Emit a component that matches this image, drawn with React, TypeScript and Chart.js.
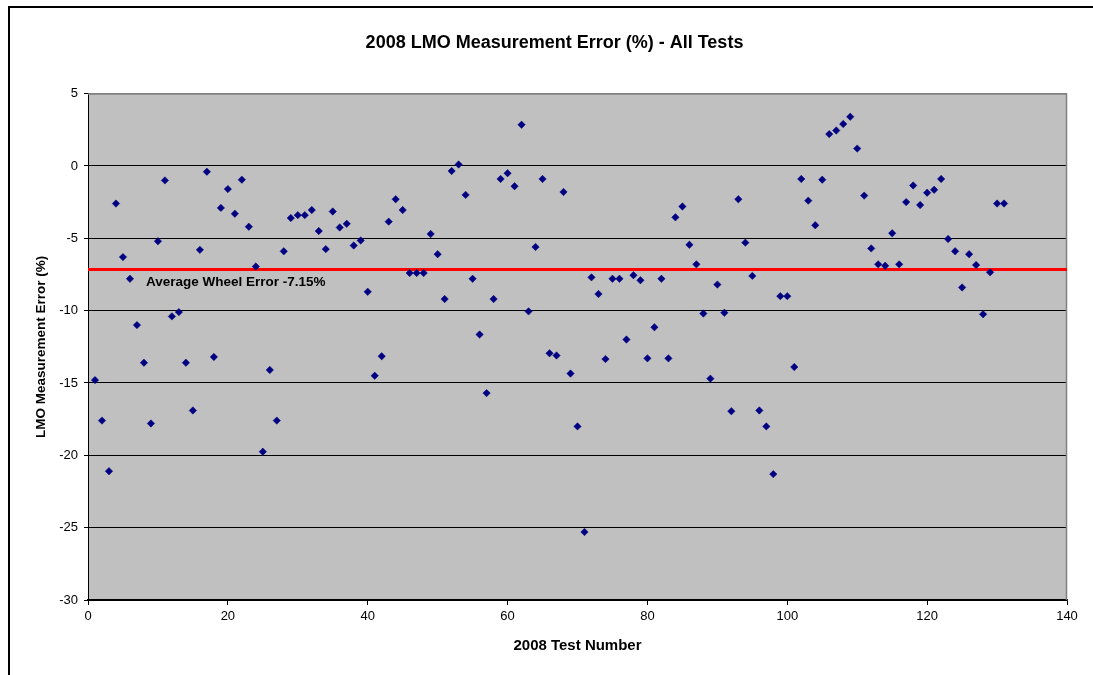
import React, { useEffect, useRef } from "react";
import { Chart, registerables } from "chart.js";

Chart.register(...registerables);

const testNumbers = [
  1, 2, 3, 4, 5, 6, 7, 8, 9, 10, 11, 12, 13, 14, 15, 16, 17, 18, 19, 20,
  21, 22, 23, 24, 25, 26, 27, 28, 29, 30, 31, 32, 33, 34, 35, 36, 37, 38, 39, 40,
  41, 42, 43, 44, 45, 46, 47, 48, 49, 50, 51, 52, 53, 54, 55, 56, 57, 58, 59, 60,
  61, 62, 63, 64, 65, 66, 67, 68, 69, 70, 71, 72, 73, 74, 75, 76, 77, 78, 79, 80,
  81, 82, 83, 84, 85, 86, 87, 88, 89, 90, 91, 92, 93, 94, 95, 96, 97, 98, 99, 100,
  101, 102, 103, 104, 105, 106, 107, 108, 109, 110, 111, 112, 113, 114, 115, 116, 117, 118, 119, 120,
  121, 122, 123, 124, 125, 126, 127, 128, 129, 130, 131,
];

const measurementErrors = [
  -14.8, -17.6, -21.1, -2.6, -6.3, -7.8, -11.0, -13.6, -17.8, -5.2,
  -1.0, -10.4, -10.1, -13.6, -16.9, -5.8, -0.4, -13.2, -2.9, -1.6,
  -3.3, -0.95, -4.2, -6.95, -19.75, -14.1, -17.6, -5.9, -3.6, -3.4,
  -3.4, -3.05, -4.5, -5.75, -3.15, -4.25, -4.0, -5.5, -5.15, -8.7,
  -14.5, -13.15, -3.85, -2.3, -3.05, -7.4, -7.4, -7.4, -4.7, -6.1,
  -9.2, -0.35, 0.1, -2.0, -7.8, -11.65, -15.7, -9.2, -0.9, -0.5,
  -1.4, 2.85, -10.05, -5.6, -0.9, -12.95, -13.1, -1.8, -14.35, -18.0,
  -25.3, -7.7, -8.85, -13.35, -7.8, -7.8, -12.0, -7.55, -7.9, -13.3,
  -11.15, -7.8, -13.3, -3.55, -2.8, -5.45, -6.8, -10.2, -14.7, -8.2,
  -10.15, -16.95, -2.3, -5.3, -7.6, -16.9, -18.0, -21.3, -9.0, -9.0,
  -13.9, -0.9, -2.4, -4.1, -0.95, 2.2, 2.45, 2.9, 3.4, 1.2,
  -2.05, -5.7, -6.8, -6.9, -4.65, -6.8, -2.5, -1.35, -2.7, -1.85,
  -1.65, -0.9, -5.05, -5.9, -8.4, -6.1, -6.85, -10.25, -7.35, -2.6,
  -2.6,
];

const averageError = -7.15;
const averageLineX = [0, 140];
const averageLabel = "Average Wheel Error -7.15%";

const chartTitle = "2008 LMO Measurement Error (%) - All Tests";
const xAxisTitle = "2008 Test Number";
const yAxisTitle = "LMO Measurement Error (%)";

const FONT = "'Liberation Sans', Arial, sans-serif";

const plotBackground = {
  id: "plotBackground",
  afterLayout(chart: any) {
    const tb = chart.titleBlock;
    if (tb) {
      const shift = 21;
      tb.left += shift;
      tb.right += shift;
    }
  },
  beforeDraw(chart: any) {
    const { ctx, chartArea } = chart;
    ctx.save();
    ctx.fillStyle = "#C0C0C0";
    ctx.fillRect(chartArea.left, chartArea.top, chartArea.right - chartArea.left, chartArea.bottom - chartArea.top);
    ctx.restore();
  },
  beforeDatasetsDraw(chart: any) {
    const { ctx, chartArea } = chart;
    ctx.save();
    ctx.strokeStyle = "#808080";
    ctx.lineWidth = 1.5;
    ctx.beginPath();
    ctx.moveTo(chartArea.left, chartArea.top + 0.5);
    ctx.lineTo(chartArea.right - 0.5, chartArea.top + 0.5);
    ctx.lineTo(chartArea.right - 0.5, chartArea.bottom);
    ctx.stroke();
    ctx.restore();
  },
  afterDatasetsDraw(chart: any) {
    const { ctx, chartArea, scales } = chart;
    const y = scales.y.getPixelForValue(averageError);
    ctx.save();
    ctx.font = `bold 13.5px ${FONT}`;
    ctx.fillStyle = "#000000";
    ctx.textAlign = "left";
    ctx.textBaseline = "middle";
    ctx.fillText(averageLabel, chartArea.left + 58, y + 12.5);
    ctx.restore();
  },
};

export default function App() {
  const canvasRef = useRef<HTMLCanvasElement | null>(null);

  useEffect(() => {
    if (!canvasRef.current) return;
    const points = testNumbers.map((t, i) => ({ x: t, y: measurementErrors[i] }));
    const avgLine = averageLineX.map((x) => ({ x, y: averageError }));
    const chart = new Chart(canvasRef.current, {
      type: "scatter",
      data: {
        datasets: [
          {
            label: "Average",
            type: "line",
            data: avgLine,
            borderColor: "#FF0000",
            borderWidth: 3,
            pointRadius: 0,
            fill: false,
            order: 2,
          } as any,
          {
            label: "Measurement Error",
            data: points,
            pointStyle: "rectRot",
            pointRadius: 3.7,
            pointBorderWidth: 0.5,
            backgroundColor: "#000080",
            borderColor: "#000080",
            order: 1,
          },
        ],
      },
      options: {
        responsive: false,
        animation: false,
        layout: { padding: { left: 0, right: 26, top: 0, bottom: 0 } },
        plugins: {
          legend: { display: false },
          tooltip: { enabled: false },
          title: {
            display: true,
            text: chartTitle,
            color: "#000000",
            font: { family: FONT, size: 18, weight: "bold" },
            padding: { top: 32, bottom: 40 },
          },
        },
        scales: {
          x: {
            type: "linear",
            min: 0,
            max: 140,
            afterFit: (s: any) => {
              s.height = 75;
            },
            ticks: {
              stepSize: 20,
              color: "#000000",
              font: { family: FONT, size: 13 },
              padding: 4,
              maxRotation: 0,
            },
            grid: {
              drawOnChartArea: false,
              drawTicks: true,
              tickLength: 5,
              tickColor: "#000000",
            },
            border: { color: "#000000", width: 1.5 },
            title: {
              display: true,
              text: xAxisTitle,
              color: "#000000",
              font: { family: FONT, size: 15, weight: "bold" },
              padding: { top: 0, bottom: 20 },
            },
          },
          y: {
            type: "linear",
            min: -30,
            max: 5,
            afterFit: (s: any) => {
              s.width = 88;
            },
            ticks: {
              stepSize: 5,
              color: "#000000",
              font: { family: FONT, size: 13 },
              padding: 6,
            },
            grid: {
              color: (c: any) => (c.tick && c.tick.value === 5 ? "#808080" : "#000000"),
              lineWidth: 1,
              tickLength: 4,
              tickColor: "#000000",
            },
            border: { color: "#000000", width: 1 },
            title: {
              display: true,
              text: yAxisTitle,
              color: "#000000",
              font: { family: FONT, size: 13.5, weight: "bold" },
              padding: { top: 33, bottom: 0 },
            },
          },
        },
      },
      plugins: [plotBackground],
    });
    return () => chart.destroy();
  }, []);

  return (
    <div style={{ position: "absolute", left: 0, top: 0, width: 1093, height: 675, background: "#FFFFFF", overflow: "hidden" }}>
      <canvas ref={canvasRef} width={1093} height={675} style={{ display: "block", position: "absolute", left: 0, top: 0 }} />
      <div
        style={{
          position: "absolute",
          left: 8,
          top: 6,
          width: 1085,
          height: 669,
          borderTop: "2px solid #000000",
          borderLeft: "2px solid #000000",
          boxSizing: "border-box",
          pointerEvents: "none",
        }}
      />
    </div>
  );
}
